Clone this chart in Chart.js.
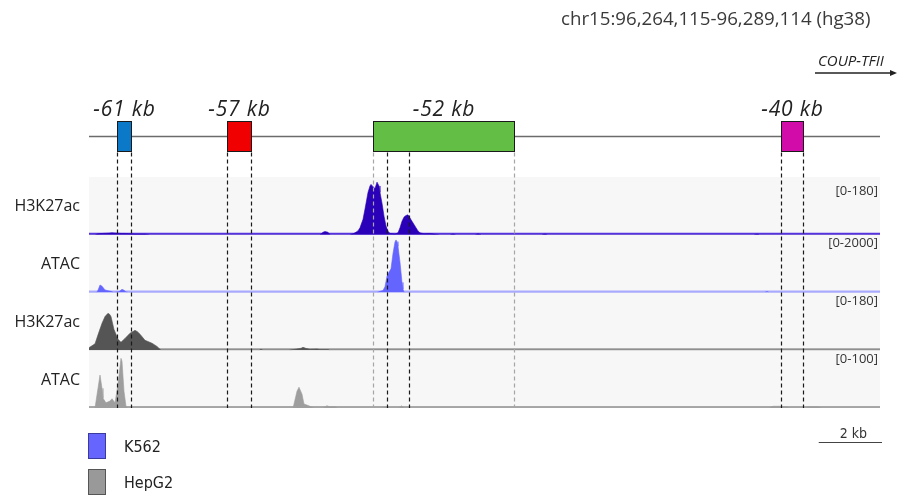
<!DOCTYPE html>
<html>
<head>
<meta charset="utf-8">
<title>COUP-TFII - potenciadores</title>
<script src="https://cdn.jsdelivr.net/npm/chart.js@4.4.0/dist/chart.umd.min.js"></script>
<style>
  html, body { margin: 0; padding: 0; background: #fff; }
  #contenedor { position: relative; width: 897px; height: 498px; overflow: hidden; font-family: "Open Sans", sans-serif; }
  #grafico { position: absolute; left: 0; top: 0; }
  .locus { position: absolute; left: 561px; top: 8px; font-size: 18.7px; line-height: 20px; color: #3a3a3a; white-space: nowrap; }
  .gen { position: absolute; left: 818px; top: 51px; font-size: 15px; line-height: 18px; font-style: italic; color: #222; white-space: nowrap; }
  .flecha { position: absolute; left: 813px; top: 68px; }
  .leyenda { position: absolute; left: 88px; display: flex; align-items: center; font-family: "DejaVu Sans Condensed", "DejaVu Sans", sans-serif; font-size: 16px; color: #222; }
  .leyenda .caja { width: 18px; height: 26px; box-sizing: border-box; border: 1px solid; margin-right: 18px; }
</style>
</head>
<body>
<div id="contenedor">
  <canvas id="grafico" width="897" height="498"></canvas>
  <div class="locus">chr15:96,264,115-96,289,114 (hg38)</div>
  <div class="gen">COUP-TFII</div>
  <svg class="flecha" width="84" height="10">
    <line x1="2" y1="5" x2="80" y2="5" stroke="#222" stroke-width="1.3"/>
    <polygon points="77,2 84,5 77,8" fill="#222"/>
  </svg>
  <div class="leyenda" style="top:433px"><span class="caja" style="background:#6666ff;border-color:#3b3b9e"></span>K562</div>
  <div class="leyenda" style="top:469px"><span class="caja" style="background:#999;border-color:#555"></span>HepG2</div>
</div>
<script>
// ==============================
// DATOS
// ==============================

// Ventana genómica (posiciones relativas al inicio)
const inicioVentana = 96264115;
const finVentana = 96289114;
const longitudVentana = finVentana - inicioVentana + 1;
const escalaKb = 2;

// Potenciadores aguas arriba de COUP-TFII
const potenciadores = ["-61 kb", "-57 kb", "-52 kb", "-40 kb"];
const potInicio = [885, 4362, 8976, 21871];
const potFin = [1327, 5120, 13433, 22567];
// Guías extra que delimitan el pico de ATAC dentro de -52 kb
const picosGuia = [9418, 10114];

// Pistas
const pistaMarca = ["H3K27ac", "ATAC", "H3K27ac", "ATAC"];
const pistaCelula = ["K562", "K562", "HepG2", "HepG2"];
const pistaMax = [180, 2000, 180, 100];

// K562 H3K27ac
const k562H3Pos = [0, 190, 284, 411, 600, 727, 885, 1011, 1138, 1296, 1454, 1770, 1928,
  7300, 7400, 7459, 7550, 7620,
  8249, 8344, 8407, 8500, 8565, 8660, 8723, 8818, 8881, 8913, 8976, 9039, 9103, 9166, 9197, 9261, 9324, 9387, 9450, 9513, 9600, 9671,
  9766, 9829, 9893, 9956, 10019, 10082, 10146, 10209, 10272, 10335, 10398, 10461, 10588, 10778, 10900, 11094,
  11400, 11505, 11600, 12200, 12295, 12400, 14300, 14412, 14500, 21000, 21113, 21200, 25000];
const k562H3Val = [0, 0, 3, 4, 5, 6, 5, 4, 4, 3, 2, 2, 0,
  0, 8, 10, 8, 0,
  0, 3, 6, 12, 22, 48, 80, 132, 152, 157, 150, 144, 164, 152, 132, 98, 58, 27, 11, 4, 3, 2,
  6, 22, 42, 55, 60, 62, 52, 42, 32, 22, 12, 6, 3, 4, 2, 0,
  0, 2, 0, 0, 3, 0, 0, 2, 0, 0, 2, 0, 0];

// K562 ATAC
const k562AtacPos = [0, 250, 300, 348, 411, 506, 600, 700, 780, 950, 1043, 1106, 1169, 1250,
  9100, 9197, 9292, 9355, 9418, 9481, 9545, 9608, 9671, 9703, 9735, 9766, 9829, 9861, 9893, 9924, 9960,
  21350, 21429, 21500, 25000];
const k562AtacVal = [0, 0, 120, 260, 220, 90, 60, 40, 0, 30, 110, 80, 20, 0,
  0, 40, 70, 200, 560, 700, 820, 1350, 1750, 1820, 1760, 1600, 1050, 700, 350, 120, 0,
  0, 35, 0, 0];

// HepG2 H3K27ac
const hepH3Pos = [0, 32, 190, 284, 411, 506, 600, 650, 695, 790, 917, 1011, 1138, 1296, 1454, 1530, 1612, 1770, 1991, 2149, 2276,
  5380, 5436, 5500, 6300, 6511, 6700, 6764, 6850, 6985, 7206, 7301, 7554, 7617, 25000];
const hepH3Val = [8, 10, 20, 48, 84, 105, 115, 112, 105, 65, 34, 25, 37, 53, 62, 58, 50, 31, 22, 12, 0,
  0, 3, 0, 0, 3, 6, 9, 6, 3, 4, 2, 2, 0, 0];

// HepG2 ATAC
const hepAtacPos = [0, 190, 284, 348, 411, 442, 537, 664, 727, 822, 917, 1011, 1043, 1106, 1169, 1201,
  6450, 6574, 6637, 6732, 6795, 6985, 7100, 7400, 7522, 7600, 7775, 7850,
  9300, 9400, 9480, 9800, 9880, 9950, 21500, 21619, 21800, 22061, 22150, 22650, 22693, 23041, 23150, 25000];
const hepAtacVal = [0, 0, 34, 57, 34, 17, 9, 12, 16, 9, 41, 86, 81, 29, 3, 0,
  0, 29, 36, 24, 7, 3, 0, 0, 4, 2, 2, 0,
  0, 2, 0, 0, 4, 0, 0, 3, 3, 2, 0, 0, 2, 2, 0, 0];

// ==============================
// ESTILOS
// ==============================
const coloresPot = ["#0b78c8", "#f00000", "#63be45", "#d20ca9"];
const relleno = ["#2a00b8", "#6464ff", "#555555", "#9e9e9e"];
const lineaBase = ["#5533dd", "#a9a9ff", "#9a9a9a", "#a8a8a8"];
const idsPista = ["p0", "p1", "p2", "p3"];
const senales = [
  [k562H3Pos, k562H3Val],
  [k562AtacPos, k562AtacVal],
  [hepH3Pos, hepH3Val],
  [hepAtacPos, hepAtacVal]
];

function puntos(pos, val) {
  return pos.map((p, i) => ({ x: p, y: val[i] }));
}

// ==============================
// PLUGIN: mapa, pistas y guías
// ==============================
const dibujoPistas = {
  id: "dibujoPistas",
  beforeDatasetsDraw(chart) {
    const { ctx, chartArea, scales } = chart;
    ctx.save();
    idsPista.forEach((id, i) => {
      const s = scales[id];
      ctx.fillStyle = "#f7f7f7";
      ctx.fillRect(chartArea.left, s.top, chartArea.width, s.bottom - s.top);
      const y0 = s.getPixelForValue(0) - 1;
      ctx.strokeStyle = lineaBase[i];
      ctx.lineWidth = 2;
      ctx.beginPath();
      ctx.moveTo(chartArea.left, y0);
      ctx.lineTo(chartArea.right, y0);
      ctx.stroke();
    });
    ctx.restore();
  },
  afterDatasetsDraw(chart) {
    const { ctx, chartArea, scales } = chart;
    const x = scales.x;
    const mapa = scales.mapa;
    const yLinea = Math.round(mapa.getPixelForValue(0.5)) + 0.5;
    const alto = 15;
    ctx.save();

    // línea del locus
    ctx.strokeStyle = "#6b6b6b";
    ctx.lineWidth = 1.5;
    ctx.beginPath();
    ctx.moveTo(chartArea.left, yLinea);
    ctx.lineTo(chartArea.right, yLinea);
    ctx.stroke();

    // cajas de potenciadores + etiquetas
    potenciadores.forEach((nombre, i) => {
      const x0 = Math.round(x.getPixelForValue(potInicio[i])) + 0.5;
      const x1 = Math.round(x.getPixelForValue(potFin[i])) + 0.5;
      ctx.fillStyle = coloresPot[i];
      ctx.fillRect(x0, yLinea - alto, x1 - x0, alto * 2);
      ctx.strokeStyle = "#1a1a1a";
      ctx.lineWidth = 1;
      ctx.strokeRect(x0, yLinea - alto, x1 - x0, alto * 2);

      ctx.fillStyle = "#222";
      ctx.font = 'italic 21px "Open Sans"';
      ctx.letterSpacing = "0.8px";
      ctx.textAlign = "center";
      ctx.textBaseline = "alphabetic";
      ctx.fillText(nombre, (x0 + x1) / 2, yLinea - alto - 6);
      ctx.letterSpacing = "0px";
    });

    // guías discontinuas
    const guias = [];
    potenciadores.forEach((n, i) => {
      const ancho = potFin[i] - potInicio[i] > escalaKb * 1000;
      guias.push({ pos: potInicio[i], suave: ancho });
      guias.push({ pos: potFin[i], suave: ancho });
    });
    picosGuia.forEach(p => guias.push({ pos: p, suave: false }));
    ctx.setLineDash([4, 3]);
    ctx.lineWidth = 1.2;
    guias.forEach(g => {
      const gx = Math.round(x.getPixelForValue(g.pos)) + 0.5;
      ctx.strokeStyle = g.suave ? "#a6a6a6" : "#1a1a1a";
      ctx.beginPath();
      ctx.moveTo(gx, yLinea + alto + 1);
      ctx.lineTo(gx, chartArea.bottom);
      ctx.stroke();
    });
    ctx.setLineDash([]);

    // nombres y rangos de cada pista
    idsPista.forEach((id, i) => {
      const s = scales[id];
      ctx.fillStyle = "#222";
      ctx.font = '16px "Open Sans"';
      ctx.textAlign = "right";
      ctx.textBaseline = "middle";
      ctx.fillText(pistaMarca[i], 80, (s.top + s.bottom) / 2 + 1);
      ctx.font = '13px "Open Sans"';
      ctx.fillStyle = "#333";
      ctx.fillText("[0-" + pistaMax[i] + "]", chartArea.right - 2, s.top + (i === 0 ? 14 : 9));
    });

    // barra de escala
    const largo = x.getPixelForValue(escalaKb * 1000) - x.getPixelForValue(0);
    const xd = chartArea.right + 2;
    ctx.strokeStyle = "#444";
    ctx.lineWidth = 1;
    ctx.beginPath();
    ctx.moveTo(xd - largo, 442.5);
    ctx.lineTo(xd, 442.5);
    ctx.stroke();
    ctx.fillStyle = "#333";
    ctx.font = '14px "DejaVu Sans Condensed", "DejaVu Sans"';
    ctx.textAlign = "center";
    ctx.textBaseline = "alphabetic";
    ctx.fillText(escalaKb + " kb", xd - largo / 2 + 3, 438);

    ctx.restore();
  }
};

// ==============================
// GRÁFICO
// ==============================
const escalasPista = {};
idsPista.forEach((id, i) => {
  escalasPista[id] = {
    type: "linear", axis: "y", position: "right", stack: "pistas", stackWeight: 1,
    min: 0, max: pistaMax[i], display: false
  };
});

const grafico = new Chart(document.getElementById("grafico").getContext("2d"), {
  type: "line",
  data: {
    datasets: senales.map(([pos, val], i) => ({
      label: pistaCelula[i] + " " + pistaMarca[i],
      data: puntos(pos, val),
      yAxisID: idsPista[i],
      backgroundColor: relleno[i],
      borderColor: relleno[i],
      borderWidth: 0.6,
      fill: "origin",
      pointRadius: 0,
      tension: 0
    }))
  },
  options: {
    responsive: false,
    animation: false,
    layout: { padding: { left: 89, right: 17, top: 95, bottom: 90 } },
    plugins: { legend: { display: false }, tooltip: { enabled: false } },
    scales: {
      x: { type: "linear", min: 0, max: longitudVentana, display: false },
      mapa: { type: "linear", axis: "y", position: "right", stack: "pistas", stackWeight: 1.42, min: 0, max: 1, display: false },
      ...escalasPista
    }
  },
  plugins: [dibujoPistas]
});
</script>
</body>
</html>
